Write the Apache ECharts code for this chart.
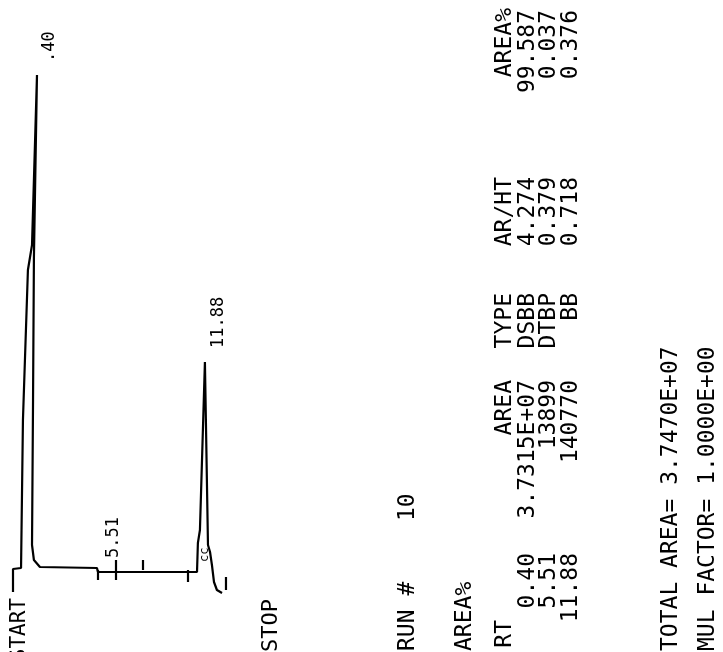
<!DOCTYPE html>
<html>
<head>
<meta charset="utf-8">
<script src="https://cdn.jsdelivr.net/npm/echarts@6/dist/echarts.min.js"></script>
<style>html,body{margin:0;padding:0;background:#fff}#c{width:723px;height:652px}</style>
</head>
<body>
<div id="c"></div>
<script>
// ---- data (time in min, signal in arbitrary units) ----
const traceTime   = [-1.24, -1.24, -0.69, -0.56, -0.22, 0.06, 0.40, 0.19, 0.13, 0.06, 0.19, 0.60, 4.50, 4.57, 11.34, 11.40, 11.54, 11.88, 12.09, 12.23, 12.36, 12.50, 12.70, 13.05];
const traceSignal = [-4.4, 0.2, 0.4, 30, 60, 65, 99, 62.4, 34, 5, 2, 0.6, 0.4, -0.4, -0.4, 5.4, 8, 41.6, 5, 3.6, 1, -2.4, -4, -4.6];
const penTime   = [13.32, 13.32];
const penSignal = [-1.4, -4.0];
const tickTime = [4.57, 5.80, 7.65, 10.72];
const tickLow  = [-2, -2, 0, -2.4];
const tickHigh = [0, 2, 2, 0];
const peakLabelTime = [0.40, 5.51, 11.88];
const peakLabelText = ['.40', '5.51', '11.88'];
const tableRT      = ['0.40', '5.51', '11.88'];
const tableArea    = ['3.7315E+07', '13899', '140770'];
const tableType    = ['DSBB', 'DTBP', 'BB'];
const tableArHt    = ['4.274', '0.379', '0.718'];
const tableAreaPct = ['99.587', '0.037', '0.376'];
const runNumber = '10';
const totalArea = '3.7470E+07';
const mulFactor = '1.0000E+00';

const chart = echarts.init(document.getElementById('c'), null, {renderer: 'canvas'});
const FONT = '"DejaVu Sans Mono", "Liberation Mono", monospace';
const R = Math.PI / 2;
function txt(text, x, y, size, align) {
  return {
    type: 'text', x: x, y: y, rotation: R, silent: true,
    style: {
      text: text, fill: '#000', fontFamily: FONT, fontSize: size,
      align: align || 'left', verticalAlign: 'middle',
      textAlign: align || 'left', textVerticalAlign: 'middle'
    }
  };
}

const trace = traceTime.map((t, i) => [t, traceSignal[i]]);
const pen = penTime.map((t, i) => [t, penSignal[i]]);
const tickLines = tickTime.map((t, i) => [{coord: [t, tickLow[i]]}, {coord: [t, tickHigh[i]]}]);

const graphics = [];
graphics.push(txt('START', 20, 598, 21, 'right'));
graphics.push(txt('cc', 205, 562, 12, 'left'));
const labelPos = [[50, 62], [114, 558], [219, 348]];
peakLabelText.forEach((s, i) => graphics.push(txt(s, labelPos[i][0], labelPos[i][1], 17, 'left')));
graphics.push(txt('STOP', 271, 652, 22, 'left'));
graphics.push(txt('RUN #', 408, 651, 23, 'left'));
graphics.push(txt(runNumber, 408, 521, 23, 'left'));
graphics.push(txt('AREA%', 465, 651, 23, 'left'));
const hx = 505;
graphics.push(txt('RT', hx, 620, 23, 'right'));
graphics.push(txt('AREA', hx, 380, 23, 'right'));
graphics.push(txt('TYPE', hx, 293, 23, 'right'));
graphics.push(txt('AR/HT', hx, 177, 23, 'right'));
graphics.push(txt('AREA%', hx, 8, 23, 'right'));
const rowX = [528, 549, 571];
rowX.forEach((x, i) => {
  graphics.push(txt(tableRT[i], x, 553, 23, 'right'));
  graphics.push(txt(tableArea[i], x, 380, 23, 'right'));
  graphics.push(txt(tableType[i], x, 293, 23, 'right'));
  graphics.push(txt(tableArHt[i], x, 177, 23, 'right'));
  graphics.push(txt(tableAreaPct[i], x, 10, 23, 'right'));
});
graphics.push(txt('TOTAL AREA= ' + totalArea, 671, 651, 23, 'left'));
graphics.push(txt('MUL FACTOR= ' + mulFactor, 708, 651, 23, 'left'));

chart.setOption({
  animation: false,
  backgroundColor: '#fff',
  grid: {left: 13, top: 70, width: 220, height: 580},
  xAxis: {type: 'value', min: -1.24, max: 13.8, show: false},
  yAxis: {type: 'value', min: -16, max: 100, show: false},
  series: [
    {
      type: 'line', data: trace, showSymbol: false, symbol: 'none',
      lineStyle: {color: '#000', width: 2.2}, silent: true,
      markLine: {
        silent: true, symbol: ['none', 'none'], label: {show: false},
        lineStyle: {color: '#000', width: 2.2, type: 'solid'},
        data: tickLines
      }
    },
    {
      type: 'line', data: pen, showSymbol: false, symbol: 'none',
      lineStyle: {color: '#000', width: 2.2}, silent: true
    }
  ],
  graphic: graphics
});
</script>
</body>
</html>
